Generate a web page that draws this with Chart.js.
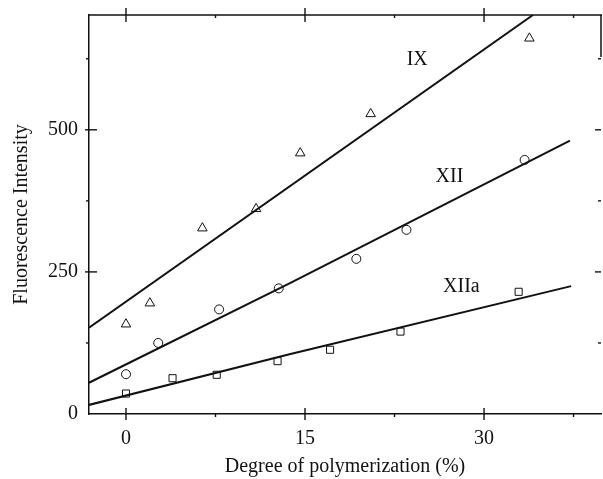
<!DOCTYPE html>
<html>
<head>
<meta charset="utf-8">
<script src="https://cdn.jsdelivr.net/npm/chart.js@4"></script>
<style>
  body { margin: 0; background: #fff; }
</style>
</head>
<body>
<canvas id="myChart" width="603" height="479"></canvas>
<script>
// measured points, degree of polymerization (%) vs fluorescence intensity
var ixX = [0, 2.0, 6.4, 10.9, 14.6, 20.5, 33.8];
var ixY = [158, 195, 327, 361, 459, 528, 661];
var xiiX = [0, 2.7, 7.8, 12.8, 19.3, 23.5, 33.4];
var xiiY = [70, 125, 184, 221, 273, 324, 447];
var xiiaX = [0, 3.9, 7.6, 12.7, 17.1, 23.0, 32.9];
var xiiaY = [36, 63, 69, 93, 113, 145, 215];

// fitted lines
var ixFitX = [-3.1, 34.1];
var ixFitY = [152, 702];
var xiiFitX = [-3.1, 13.7, 37.2];
var xiiFitY = [55, 230, 481];
var xiiaFitX = [-3.1, 13.7, 37.3];
var xiiaFitY = [16, 105, 225];

// curve names
var curveNames = ['IX', 'XII', 'XIIa'];
var nameX = [24.4, 27.1, 28.1];
var nameY = [623, 417, 224];

var xTicks = [0, 15, 30];
var xMinor = [7.5, 22.5, 37.5];
var yTicks = [0, 250, 500];
var yMinor = [125, 375, 625];

function pts(xs, ys) {
    return xs.map(function (v, i) { return {x: v, y: ys[i]}; });
}

function noPadding(s) {
    s.paddingLeft = 0;
    s.paddingRight = 0;
    s.paddingTop = 0;
    s.paddingBottom = 0;
}

var serif = 'Liberation Serif';

const axisDecor = {
    id: 'axisDecor',
    afterDraw: function (chart) {
        const ctx = chart.ctx;
        const a = chart.chartArea;
        const x = chart.scales.x;
        const y = chart.scales.y;
        function seg(x1, y1, x2, y2) {
            ctx.beginPath();
            ctx.moveTo(x1, y1);
            ctx.lineTo(x2, y2);
            ctx.stroke();
        }
        ctx.save();
        ctx.strokeStyle = '#111';
        ctx.lineWidth = 1.5;
        // top border and the short stub of the right border
        seg(a.left, a.top, a.right + 1, a.top);
        seg(a.right, a.top, a.right, a.top + 42);
        ctx.lineWidth = 1.4;
        xTicks.forEach(function (v) {
            const px = x.getPixelForValue(v);
            seg(px, a.bottom - 6, px, a.bottom + 6);
            seg(px, a.top - 7, px, a.top + 7);
        });
        xMinor.forEach(function (v) {
            const px = x.getPixelForValue(v);
            seg(px, a.bottom, px, a.bottom + 3);
            seg(px, a.top, px, a.top + 3);
        });
        yTicks.forEach(function (v) {
            if (v === 0) return;
            const py = y.getPixelForValue(v);
            seg(a.left - 4, py, a.left + 8, py);
            seg(a.right - 6, py, a.right, py);
        });
        yMinor.forEach(function (v) {
            const py = y.getPixelForValue(v);
            seg(a.left - 3, py, a.left, py);
            seg(a.right - 3, py, a.right, py);
        });
        // curve names
        ctx.fillStyle = '#111';
        ctx.font = '20px "' + serif + '"';
        ctx.textAlign = 'center';
        ctx.textBaseline = 'middle';
        curveNames.forEach(function (t, i) {
            ctx.fillText(t, x.getPixelForValue(nameX[i]), y.getPixelForValue(nameY[i]));
        });
        ctx.restore();
    }
};

const ctx = document.getElementById('myChart').getContext('2d');
const myChart = new Chart(ctx, {
    type: 'scatter',
    data: {
        datasets: [
            {
                label: 'IX',
                data: pts(ixX, ixY),
                pointStyle: 'triangle',
                pointRadius: 5.5,
                borderColor: '#111',
                backgroundColor: 'rgba(0,0,0,0)',
                borderWidth: 1
            },
            {
                label: 'XII',
                data: pts(xiiX, xiiY),
                pointStyle: 'circle',
                pointRadius: 4.5,
                borderColor: '#111',
                backgroundColor: 'rgba(0,0,0,0)',
                borderWidth: 1
            },
            {
                label: 'XIIa',
                data: pts(xiiaX, xiiaY),
                pointStyle: 'rect',
                pointRadius: 5,
                borderColor: '#111',
                backgroundColor: 'rgba(0,0,0,0)',
                borderWidth: 1
            },
            {
                label: 'IX fit',
                data: pts(ixFitX, ixFitY),
                showLine: true,
                pointRadius: 0,
                borderColor: '#111',
                borderWidth: 2
            },
            {
                label: 'XII fit',
                data: pts(xiiFitX, xiiFitY),
                showLine: true,
                pointRadius: 0,
                borderColor: '#111',
                borderWidth: 2
            },
            {
                label: 'XIIa fit',
                data: pts(xiiaFitX, xiiaFitY),
                showLine: true,
                pointRadius: 0,
                borderColor: '#111',
                borderWidth: 2
            }
        ]
    },
    options: {
        responsive: false,
        animation: false,
        events: [],
        layout: {
            autoPadding: false,
            padding: {top: 15, right: 2, left: 0, bottom: 0}
        },
        plugins: {
            legend: {display: false},
            tooltip: {enabled: false}
        },
        scales: {
            x: {
                type: 'linear',
                min: -3.1,
                max: 39.8,
                afterBuildTicks: function (s) {
                    s.ticks = xTicks.map(function (v) { return {value: v}; });
                },
                afterFit: function (s) {
                    s.height = 65;
                    noPadding(s);
                },
                grid: {display: false},
                border: {display: true, color: '#111', width: 1.5},
                ticks: {
                    color: '#111',
                    padding: 5,
                    maxRotation: 0,
                    font: {family: serif, size: 20}
                },
                title: {
                    display: true,
                    text: 'Degree of polymerization (%)',
                    color: '#111',
                    padding: {top: 0, bottom: 0},
                    font: {family: serif, size: 20}
                }
            },
            y: {
                type: 'linear',
                min: 0,
                max: 702,
                afterBuildTicks: function (s) {
                    s.ticks = yTicks.map(function (v) { return {value: v}; });
                },
                afterFit: function (s) {
                    s.width = 89;
                    noPadding(s);
                },
                grid: {display: false},
                border: {display: true, color: '#111', width: 1.5},
                ticks: {
                    color: '#111',
                    padding: 3,
                    font: {family: serif, size: 20}
                },
                title: {
                    display: true,
                    text: 'Fluorescence Intensity',
                    color: '#111',
                    padding: {top: 10, bottom: 0},
                    font: {family: serif, size: 20}
                }
            }
        }
    },
    plugins: [axisDecor]
});
</script>
</body>
</html>
